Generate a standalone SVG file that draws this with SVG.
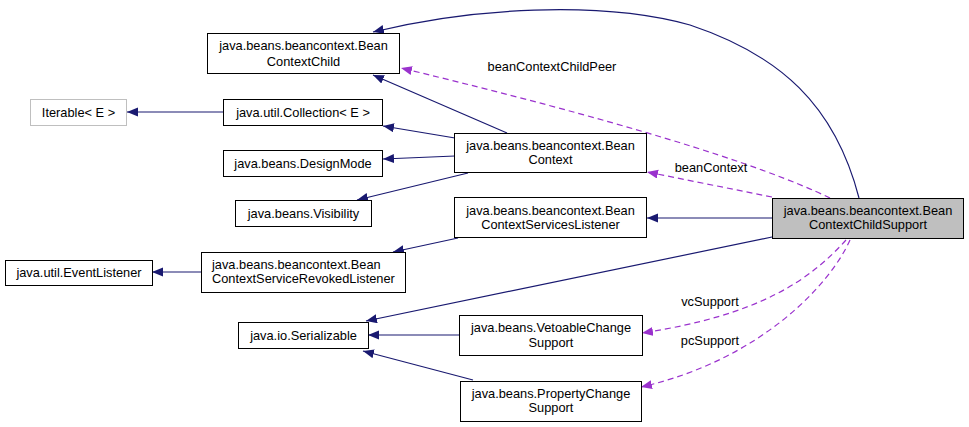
<svg xmlns="http://www.w3.org/2000/svg" width="969" height="427" viewBox="0 0 969 427">
<style>
.box{fill:#fff;stroke:#000;stroke-width:1}
.grey{fill:#fff;stroke:#bfbfbf;stroke-width:1}
.main{fill:#bfbfbf;stroke:#000;stroke-width:1}
text{font-family:"Liberation Sans",Arial,sans-serif;font-size:12.8px;fill:#000}
.c{text-anchor:middle}
.inh{fill:none;stroke:#191970;stroke-width:1.2;marker-end:url(#ah)}
.use{fill:none;stroke:#9a32cd;stroke-width:1.2;stroke-dasharray:6,4;marker-end:url(#ap)}
</style>
<defs>
<marker id="ah" markerUnits="userSpaceOnUse" markerWidth="12" markerHeight="10" refX="11" refY="4.5" orient="auto"><path d="M0,0 L11,4.5 L0,9 z" fill="#191970"/></marker>
<marker id="ap" markerUnits="userSpaceOnUse" markerWidth="12" markerHeight="10" refX="11" refY="4.5" orient="auto"><path d="M0,0 L11,4.5 L0,9 z" fill="#9a32cd"/></marker>
</defs>
<rect width="969" height="427" fill="#fff"/>
<g id="edges">
<path class="inh" d="M859,198 C835,105 780,55 690,25 C600,0 470,8 373,32"/>
<path class="use" d="M830,198 Q720,145 401,68"/>
<path class="use" d="M772,197 L647,172"/>
<path class="inh" d="M772,218 L647,218"/>
<path class="inh" d="M772,237 L366,321"/>
<path class="use" d="M846,240 C810,280 760,315 642,333"/>
<path class="use" d="M850,240 C830,285 760,360 641,387"/>
<path class="inh" d="M507,133 L373,75"/>
<path class="inh" d="M455,138 L383,126"/>
<path class="inh" d="M455,156 L383,159"/>
<path class="inh" d="M468,173 L357,200"/>
<path class="inh" d="M458,238 L393,252"/>
<path class="inh" d="M201,272 L152,272"/>
<path class="inh" d="M223,112 L127,112"/>
<path class="inh" d="M459,335 L368,335"/>
<path class="inh" d="M473,380 L363,351"/>
<text class="c" x="552" y="71">beanContextChildPeer</text>
<text class="c" x="711" y="172">beanContext</text>
<text class="c" x="710" y="306">vcSupport</text>
<text class="c" x="710" y="345">pcSupport</text>
</g>
<g id="BeanContextChild"><rect class="box" x="207.5" y="33.5" width="192" height="40"/><text class="c" x="303.5" y="49.5">java.beans.beancontext.Bean</text><text class="c" x="303.5" y="65.5">ContextChild</text></g>
<g id="Iterable"><rect class="grey" x="30.5" y="99.5" width="96" height="26"/><text class="c" x="78.5" y="116.5">Iterable&lt; E &gt;</text></g>
<g id="Collection"><rect class="box" x="223.5" y="99.5" width="159" height="26"/><text class="c" x="303" y="116.5">java.util.Collection&lt; E &gt;</text></g>
<g id="DesignMode"><rect class="box" x="223.5" y="150.5" width="159" height="26"/><text class="c" x="303" y="167.5">java.beans.DesignMode</text></g>
<g id="Visibility"><rect class="box" x="235.5" y="200.5" width="136" height="26"/><text class="c" x="303.5" y="217.5">java.beans.Visibility</text></g>
<g id="BeanContext"><rect class="box" x="454.5" y="133.5" width="192" height="39"/><text class="c" x="550.5" y="149.5">java.beans.beancontext.Bean</text><text class="c" x="550.5" y="163.5">Context</text></g>
<g id="BeanContextServicesListener"><rect class="box" x="454.5" y="197.5" width="192" height="40"/><text class="c" x="550.5" y="214.5">java.beans.beancontext.Bean</text><text class="c" x="550.5" y="228.5">ContextServicesListener</text></g>
<g id="BeanContextChildSupport"><rect class="main" x="772.5" y="198.5" width="191" height="40"/><text class="c" x="868" y="214.5">java.beans.beancontext.Bean</text><text class="c" x="868" y="228.5">ContextChildSupport</text></g>
<g id="EventListener"><rect class="box" x="5.5" y="260.5" width="147" height="25"/><text class="c" x="79" y="276.5">java.util.EventListener</text></g>
<g id="BeanContextServiceRevokedListener"><rect class="box" x="201.5" y="252.5" width="204" height="40"/><text x="212" y="268.5">java.beans.beancontext.Bean</text><text x="212" y="282.5">ContextServiceRevokedListener</text></g>
<g id="Serializable"><rect class="box" x="238.5" y="322.5" width="130" height="26"/><text class="c" x="303.5" y="339.5">java.io.Serializable</text></g>
<g id="VetoableChangeSupport"><rect class="box" x="459.5" y="315.5" width="183" height="40"/><text class="c" x="551" y="331.5">java.beans.VetoableChange</text><text class="c" x="551" y="346.5">Support</text></g>
<g id="PropertyChangeSupport"><rect class="box" x="460.5" y="381.5" width="181" height="40"/><text class="c" x="551" y="397.5">java.beans.PropertyChange</text><text class="c" x="551" y="411.5">Support</text></g>
</svg>
